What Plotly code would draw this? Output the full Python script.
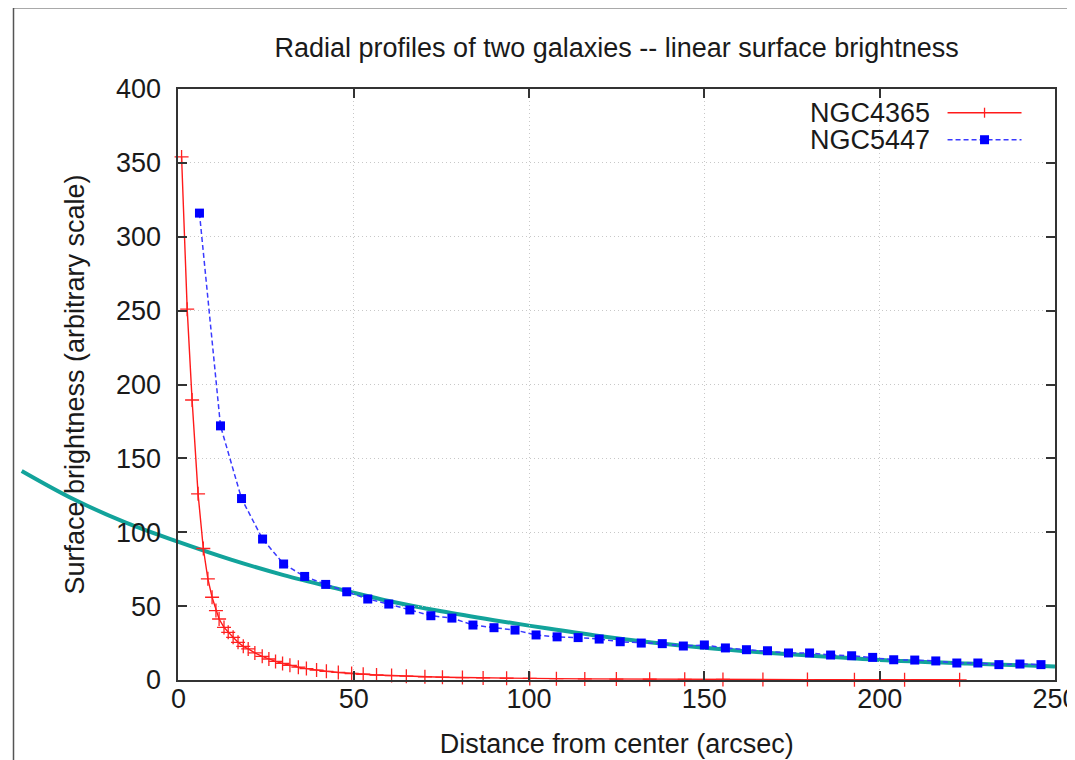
import plotly.graph_objects as go

# ---------------- data ----------------
ngc4365_r = [0.9, 2.5, 3.9, 5.6, 7.1, 8.4, 9.6, 10.7, 11.6, 13.0, 14.2, 15.6, 17.0, 18.5,
             19.9, 21.8, 23.9, 25.8, 27.7, 29.7, 31.8, 34.2, 36.5, 39.4, 42.2, 45.6, 49.4,
             52.7, 56.5, 60.8, 65.0, 70.3, 75.3, 81.0, 86.9, 93.6, 100.2, 107.8, 115.9,
             124.9, 134.4, 144.4, 155.3, 166.7, 179.4, 192.8, 207.1, 222.8]
ngc4365_sb = [354, 251, 189.5, 126, 89, 68.5, 56, 47, 41.3, 35.6, 32.3, 28.9, 25.5, 22.8,
              21.0, 18.3, 16.0, 14.2, 12.6, 11.2, 9.9, 8.7, 7.7, 6.7, 5.9, 5.1, 4.4,
              3.9, 3.4, 3.0, 2.6, 2.2, 1.9, 1.65, 1.4, 1.2, 1.05, 0.9, 0.75,
              0.62, 0.52, 0.44, 0.37, 0.31, 0.26, 0.22, 0.18, 0.15]

ngc5447_r = [6, 12, 18, 24, 30, 36, 42, 48, 54, 60, 66, 72, 78, 84, 90, 96, 102, 108, 114,
             120, 126, 132, 138, 144, 150, 156, 162, 168, 174, 180, 186, 192, 198, 204,
             210, 216, 222, 228, 234, 240, 246]
ngc5447_sb = [316, 172, 122.8, 95.4, 78.5, 70.1, 64.7, 59.7, 54.8, 51.4, 47.4, 43.5, 41.9,
              37.2, 35.4, 33.8, 30.5, 29.2, 28.7, 27.7, 25.9, 25.0, 24.6, 23.0, 23.7, 21.7,
              20.5, 19.8, 18.3, 18.3, 16.9, 16.4, 15.3, 13.7, 13.5, 12.9, 11.5, 11.5, 10.4,
              10.8, 10.4]

fit_r = [-44.7, -30, -15, 0, 15, 30, 45, 60, 75, 90, 105, 120, 135, 150, 165, 180, 200, 225, 250]
fit_sb = [141.5, 122.5, 106.5, 93.5, 81.5, 71.0, 62.0, 53.5, 46.5, 40.5, 35.0, 29.8, 25.4,
          21.8, 18.9, 16.5, 13.6, 11.2, 9.2]

x_ticks = [0, 50, 100, 150, 200, 250]
y_ticks = [0, 50, 100, 150, 200, 250, 300, 350, 400]

# ---------------- geometry ----------------
# page pixel = figure pixel + OFF (body margin of the html page)
OFF = 8
W, H = 1075, 760
PLOT_L, PLOT_R, PLOT_T, PLOT_B = 178.5, 1055.5, 89.3, 680.0      # page pixels
ML = 15 - OFF                                                     # room for the overlay curve
MR = W - (PLOT_R - OFF)
MT = PLOT_T - OFF
MB = H - (PLOT_B - OFF)
PW, PH = W - ML - MR, H - MT - MB


def px(x_page):
    return (x_page - OFF - ML) / PW


def py(y_page):
    return (PLOT_B - y_page) / PH


scale = (PLOT_R - PLOT_L) / 250.0
x_left_val = -(PLOT_L - OFF - ML) / scale

FONT = "Liberation Sans"
FS = 27
TXT = "#1a1a1a"
AX = "#333333"

fig = go.Figure()

# teal overlay curve (drawn first, extends left of the frame)
fig.add_trace(go.Scatter(x=fit_r, y=fit_sb, mode="lines", xaxis="x", yaxis="y",
                         line=dict(color="#12a39b", width=4, shape="spline"),
                         showlegend=False, hoverinfo="skip"))

fig.add_trace(go.Scatter(x=ngc4365_r, y=ngc4365_sb, mode="lines+markers", name="NGC4365",
                         xaxis="x2", yaxis="y2", cliponaxis=False,
                         line=dict(color="#ff1a1a", width=1.4),
                         marker=dict(symbol="cross-thin", size=10,
                                     line=dict(color="#ff2020", width=1.3)),
                         showlegend=False))

fig.add_trace(go.Scatter(x=ngc5447_r, y=ngc5447_sb, mode="lines+markers", name="NGC5447",
                         xaxis="x2", yaxis="y2", cliponaxis=False,
                         line=dict(color="#3a3aff", width=1.5, dash="5px,3px"),
                         marker=dict(symbol="square", size=9, color="#0000ff"),
                         showlegend=False))

axis_common = dict(showline=True, mirror="ticks", linecolor=AX, linewidth=2,
                   ticks="inside", ticklen=9, tickwidth=1.5, tickcolor=AX,
                   showgrid=True, gridcolor="#c8c8c8", gridwidth=1, griddash="1px,3px",
                   zeroline=False, automargin=False,
                   tickfont=dict(family=FONT, size=FS, color=TXT))

fig.update_layout(
    width=W, height=H,
    margin=dict(l=ML, r=MR, t=MT, b=MB, autoexpand=False),
    paper_bgcolor="white", plot_bgcolor="rgba(0,0,0,0)",
    font=dict(family=FONT, size=FS, color=TXT),
    title=dict(text="Radial profiles of two galaxies -- linear surface brightness",
               x=px((PLOT_L + PLOT_R) / 2), xref="paper", xanchor="center",
               y=1 - (48 - OFF) / H, yref="container", yanchor="middle",
               font=dict(family=FONT, size=FS, color=TXT)),
    xaxis=dict(domain=[0, 1], range=[x_left_val, 250], visible=False, anchor="y",
               automargin=False),
    yaxis=dict(domain=[0, 1], range=[0, 400], visible=False, anchor="x",
               automargin=False),
    xaxis2=dict(domain=[px(PLOT_L), 1], range=[0, 250], anchor="y2",
                tickvals=x_ticks, ticklabelstandoff=-6,
                title=dict(text="Distance from center (arcsec)", standoff=21,
                           font=dict(family=FONT, size=FS, color=TXT)),
                **axis_common),
    yaxis2=dict(domain=[0, 1], range=[0, 400], anchor="x2",
                tickvals=y_ticks, ticklabelstandoff=10,
                title=dict(text="Surface brightness (arbitrary scale)", standoff=24,
                           font=dict(family=FONT, size=FS, color=TXT)),
                **axis_common),
)

# outer frame of the picture (left and top edges)
shapes = [
    dict(type="line", xref="paper", yref="paper", x0=px(13.5), x1=px(13.5), y0=py(8), y1=py(H + 20),
         line=dict(color="#555555", width=1.5)),
    dict(type="line", xref="paper", yref="paper", x0=px(13.5), x1=px(W + 20), y0=py(8), y1=py(8),
         line=dict(color="#555555", width=1.5)),
]

# custom legend (text left, sample right, like gnuplot)
leg_x0, leg_x1, leg_xm = 948, 1022, 985
row1, row2 = 113, 140
shapes += [
    dict(type="line", xref="paper", yref="paper", x0=px(leg_x0), x1=px(leg_x1), y0=py(row1), y1=py(row1),
         line=dict(color="#ff1a1a", width=1.4)),
    dict(type="line", xref="paper", yref="paper", x0=px(leg_xm), x1=px(leg_xm), y0=py(row1 - 5), y1=py(row1 + 5),
         line=dict(color="#ff2020", width=1.3)),
    dict(type="line", xref="paper", yref="paper", x0=px(leg_x0), x1=px(leg_x1), y0=py(row2), y1=py(row2),
         line=dict(color="#3a3aff", width=1.5, dash="5px,3px")),
    dict(type="rect", xref="paper", yref="paper", x0=px(leg_xm - 4.5), x1=px(leg_xm + 4.5),
         y0=py(row2 + 4.5), y1=py(row2 - 4.5), line=dict(width=0), fillcolor="#0000ff"),
]
fig.update_layout(shapes=shapes)

for name, row in (("NGC4365", row1), ("NGC5447", row2)):
    fig.add_annotation(text=name, xref="paper", yref="paper", x=px(931), y=py(row),
                       xanchor="right", yanchor="middle", showarrow=False, borderpad=0,
                       font=dict(family=FONT, size=FS, color=TXT))

fig.write_html("out.html")
